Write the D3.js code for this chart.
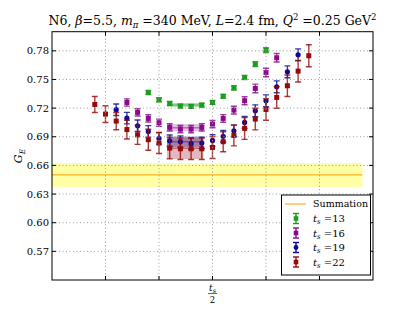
<!DOCTYPE html>
<html><head><meta charset="utf-8">
<script src="https://cdn.jsdelivr.net/npm/d3@7"></script>
<style>body{margin:0;background:#fff}svg{display:block}text{font-family:"DejaVu Serif",serif}</style>
</head><body><svg id="c" width="415" height="312"></svg>
<script>
// ---- data ----
const yTicks = [0.57, 0.60, 0.63, 0.66, 0.69, 0.72, 0.75, 0.78];
const xTicks = [-10, -5, 0, 5, 10];
const xTickLabels = ["", "", "t_s/2", "", ""];
const summation = {value: 0.650, err: 0.0125, x0: -16, x1: 14};

const ts13_x = [-6,-5,-4,-3,-2,-1,0,1,2,3,4,5];
const ts13_y = [0.7364,0.7287,0.7249,0.7221,0.7217,0.7231,0.7259,0.7324,0.7412,0.7521,0.7660,0.7807];
const ts13_e = [0.0022,0.0022,0.002,0.002,0.002,0.002,0.002,0.002,0.0022,0.0022,0.0025,0.0025];

const ts16_x = [-8,-7,-6,-5,-4,-3,-2,-1,0,1,2,3,4,5,6];
const ts16_y = [0.7259,0.7155,0.7092,0.7047,0.6998,0.6980,0.6980,0.6998,0.7033,0.7092,0.7179,0.7277,0.7406,0.7573,0.7727];
const ts16_e = [0.0038,0.0038,0.0038,0.0038,0.0038,0.0038,0.0038,0.0038,0.0038,0.004,0.004,0.0042,0.0045,0.0045,0.0045];

const ts19_x = [-9,-8,-7,-6,-5,-4,-3,-2,-1,0,1,2,3,4,5,6,7,8];
const ts19_y = [0.7183,0.7095,0.7015,0.6956,0.6883,0.6858,0.6848,0.6827,0.6834,0.6862,0.6905,0.6962,0.7050,0.7172,0.7277,0.7423,0.7580,0.7758];
const ts19_e = [0.006,0.006,0.006,0.006,0.006,0.006,0.006,0.006,0.006,0.006,0.006,0.006,0.0062,0.0062,0.0062,0.0062,0.0062,0.0062];

const ts22_x = [-11,-10,-9,-8,-7,-6,-5,-4,-3,-2,-1,0,1,2,3,4,5,6,7,8,9];
const ts22_y = [0.7238,0.7137,0.7064,0.6975,0.6920,0.6869,0.6834,0.6781,0.6774,0.6774,0.6774,0.6788,0.6848,0.6914,0.6987,0.7085,0.7186,0.7312,0.7434,0.7587,0.7748];
const ts22_e = [0.0084,0.0087,0.009,0.0098,0.010,0.011,0.011,0.0113,0.0113,0.0113,0.0113,0.0115,0.0105,0.011,0.0115,0.0113,0.0113,0.0113,0.0113,0.0113,0.0115];

const plateaus = [
  {name:"13", value:0.7233, err:0.0021, x0:-4.25, x1:-0.85},
  {name:"16", value:0.6995, err:0.0038, x0:-4.25, x1:-0.85},
  {name:"19", value:0.6848, err:0.0055, x0:-4.25, x1:-0.85},
  {name:"22", value:0.6780, err:0.0113, x0:-4.25, x1:-0.85}
];

const series = [
  {name:"13", x:ts13_x, y:ts13_y, e:ts13_e, color:"#1c9c1c", band:"rgba(40,160,40,0.35)", shape:"square"},
  {name:"16", x:ts16_x, y:ts16_y, e:ts16_e, color:"#8b0a8b", band:"rgba(150,30,150,0.28)", shape:"square"},
  {name:"19", x:ts19_x, y:ts19_y, e:ts19_e, color:"#0a0a96", band:"rgba(20,20,140,0.35)", shape:"circle"},
  {name:"22", x:ts22_x, y:ts22_y, e:ts22_e, color:"#960a0a", band:"rgba(160,20,40,0.30)", shape:"square"}
];

// ---- layout ----
const L = 52, R = 373, T = 31.7, B = 280;
const x = d3.scaleLinear().domain([-15, 15]).range([L, R]);
const y = d3.scaleLinear().domain([0.54, 0.80]).range([B, T]);
const svg = d3.select("#c");

svg.append("defs").append("clipPath").attr("id","clip")
  .append("rect").attr("x",L).attr("y",T).attr("width",R-L).attr("height",B-T);
const plot = svg.append("g").attr("clip-path","url(#clip)");

// summation band
plot.append("rect")
  .attr("x", x(summation.x0)).attr("width", x(summation.x1)-x(summation.x0))
  .attr("y", y(summation.value+summation.err)).attr("height", y(summation.value-summation.err)-y(summation.value+summation.err))
  .attr("fill", "#ffffa6");
plot.append("line")
  .attr("x1", x(summation.x0)).attr("x2", x(summation.x1))
  .attr("y1", y(summation.value)).attr("y2", y(summation.value))
  .attr("stroke", "#ffb020").attr("stroke-width", 1.2);

// grid
const grid = svg.append("g").attr("stroke","#9a9a9a").attr("stroke-width",1).attr("stroke-dasharray","1,2.5");
xTicks.forEach(t => grid.append("line").attr("x1",x(t)).attr("x2",x(t)).attr("y1",T).attr("y2",B));
yTicks.forEach(t => grid.append("line").attr("x1",L).attr("x2",R).attr("y1",y(t)).attr("y2",y(t)));

// plateau bands
series.forEach((s,i) => {
  const p = plateaus[i];
  plot.append("rect")
    .attr("x", x(p.x0)).attr("width", x(p.x1)-x(p.x0))
    .attr("y", y(p.value+p.err)).attr("height", y(p.value-p.err)-y(p.value+p.err))
    .attr("fill", s.band);
  plot.append("line")
    .attr("x1", x(p.x0)).attr("x2", x(p.x1))
    .attr("y1", y(p.value)).attr("y2", y(p.value))
    .attr("stroke", s.color).attr("stroke-opacity",0.45).attr("stroke-width",1.5);
});

// error bars + markers
function drawErr(g, cx, v, e, color, shape) {
  const cap = 3;
  g.append("line").attr("x1",cx).attr("x2",cx).attr("y1",y(v+e)).attr("y2",y(v-e))
    .attr("stroke",color).attr("stroke-opacity",0.8).attr("stroke-width",1.4);
  [v+e, v-e].forEach(w => g.append("line").attr("x1",cx-cap).attr("x2",cx+cap).attr("y1",y(w)).attr("y2",y(w))
    .attr("stroke",color).attr("stroke-opacity",0.8).attr("stroke-width",1.4));
  if (shape === "circle") g.append("circle").attr("cx",cx).attr("cy",y(v)).attr("r",2.6).attr("fill",color);
  else g.append("rect").attr("x",cx-2.5).attr("y",y(v)-2.5).attr("width",5).attr("height",5).attr("fill",color);
}
series.forEach(s => {
  const g = plot.append("g");
  s.x.forEach((xv,i) => drawErr(g, x(xv), s.y[i], s.e[i], s.color, s.shape));
});

// frame and ticks
svg.append("rect").attr("x",L).attr("y",T).attr("width",R-L).attr("height",B-T)
  .attr("fill","none").attr("stroke","#000").attr("stroke-width",1);
const tk = svg.append("g").attr("stroke","#000").attr("stroke-width",1);
xTicks.forEach(t => {
  tk.append("line").attr("x1",x(t)).attr("x2",x(t)).attr("y1",B).attr("y2",B-4);
  tk.append("line").attr("x1",x(t)).attr("x2",x(t)).attr("y1",T).attr("y2",T+4);
});
yTicks.forEach(t => {
  tk.append("line").attr("x1",L).attr("x2",L+4).attr("y1",y(t)).attr("y2",y(t));
  tk.append("line").attr("x1",R).attr("x2",R-4).attr("y1",y(t)).attr("y2",y(t));
});
yTicks.forEach(t => svg.append("text").attr("x",L-3).attr("y",y(t)).attr("dy","0.35em")
  .attr("text-anchor","end").attr("font-size",10).text(d3.format(".2f")(t)));

// x tick label: t_s / 2 fraction
xTicks.forEach((t,i) => {
  if (xTickLabels[i] !== "t_s/2") return;
  const g = svg.append("g").attr("transform",`translate(${x(t)},0)`);
  const num = g.append("text").attr("y",291).attr("text-anchor","middle").attr("font-size",9);
  num.append("tspan").attr("font-style","italic").text("t");
  num.append("tspan").attr("font-size",6.5).attr("font-style","italic").attr("dy",1.5).text("s");
  g.append("line").attr("x1",-4.5).attr("x2",4.5).attr("y1",293.5).attr("y2",293.5).attr("stroke","#000").attr("stroke-width",0.6);
  g.append("text").attr("y",302.5).attr("text-anchor","middle").attr("font-size",8.5).text("2");
});

// y label
const yl = svg.append("text").attr("transform","translate(22,156) rotate(-90)").attr("text-anchor","middle").attr("font-size",11);
yl.append("tspan").attr("font-style","italic").text("G");
yl.append("tspan").attr("font-style","italic").attr("font-size",7.5).attr("dy",2.5).text("E");

// title
const tt = svg.append("text").attr("x",(L+R)/2).attr("y",25).attr("text-anchor","middle").attr("font-size",12.5);
tt.append("tspan").text("N6, ");
tt.append("tspan").attr("font-style","italic").text("β");
tt.append("tspan").text("=5.5, ");
tt.append("tspan").attr("font-style","italic").text("m");
tt.append("tspan").attr("font-style","italic").attr("font-size",8.5).attr("dy",2.5).text("π");
tt.append("tspan").attr("dy",-2.5).text(" =340 MeV, ");
tt.append("tspan").attr("font-style","italic").text("L");
tt.append("tspan").text("=2.4 fm, ");
tt.append("tspan").attr("font-style","italic").text("Q");
tt.append("tspan").attr("font-size",8.5).attr("dy",-5).text("2");
tt.append("tspan").attr("dy",5).text(" =0.25 GeV");
tt.append("tspan").attr("font-size",8.5).attr("dy",-5).text("2");

// legend
const lg = svg.append("g");
lg.append("rect").attr("x",281.5).attr("y",195).attr("width",89).attr("height",80)
  .attr("fill","#fff").attr("stroke","#000").attr("stroke-width",1);
const rowY = [204, 218.5, 233, 247.5, 262];
lg.append("line").attr("x1",285).attr("x2",306).attr("y1",rowY[0]).attr("y2",rowY[0]).attr("stroke","#ffb020").attr("stroke-width",1.2);
lg.append("text").attr("x",313).attr("y",rowY[0]).attr("dy","0.35em").attr("font-size",9.5).text("Summation");
series.forEach((s,i) => {
  const cy = rowY[i+1];
  const g = lg.append("g");
  g.append("line").attr("x1",296).attr("x2",296).attr("y1",cy-5).attr("y2",cy+5).attr("stroke",s.color).attr("stroke-width",1.4);
  [cy-5, cy+5].forEach(w => g.append("line").attr("x1",293).attr("x2",299).attr("y1",w).attr("y2",w).attr("stroke",s.color).attr("stroke-width",1.4));
  if (s.shape==="circle") g.append("circle").attr("cx",296).attr("cy",cy).attr("r",2.4).attr("fill",s.color);
  else g.append("rect").attr("x",293.7).attr("y",cy-2.3).attr("width",4.6).attr("height",4.6).attr("fill",s.color);
  const t = lg.append("text").attr("x",313).attr("y",cy).attr("dy","0.35em").attr("font-size",10);
  t.append("tspan").attr("font-style","italic").text("t");
  t.append("tspan").attr("font-style","italic").attr("font-size",7).attr("dy",2).text("s");
  t.append("tspan").attr("dy",-2).text(" =" + s.name);
});
</script></body></html>
